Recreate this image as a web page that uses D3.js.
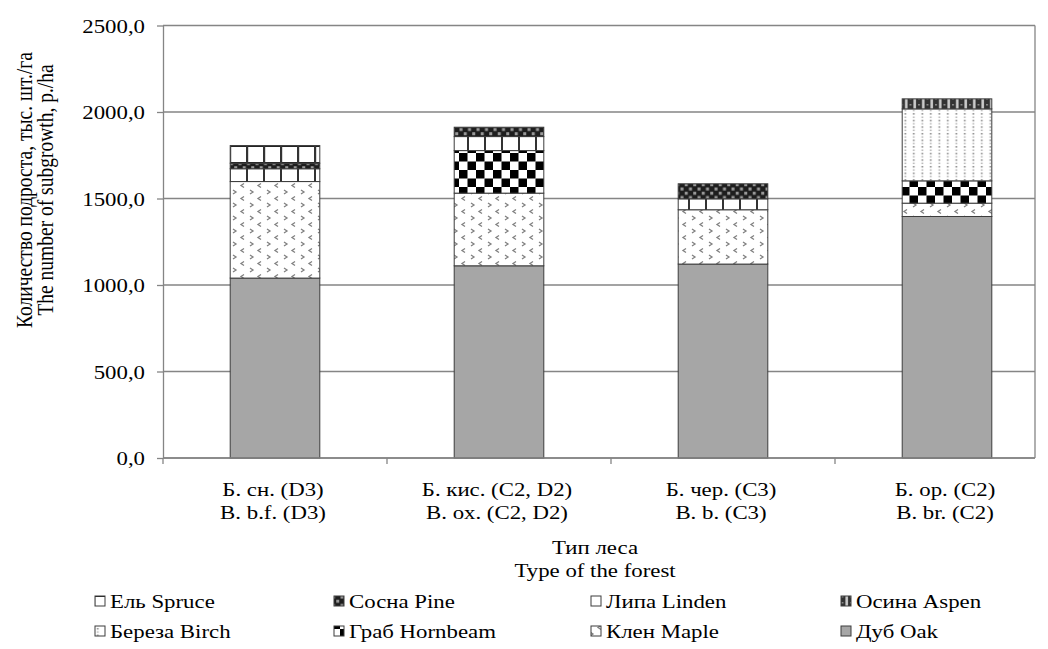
<!DOCTYPE html>
<html><head><meta charset="utf-8">
<script src="https://cdn.jsdelivr.net/npm/d3@7"></script>
<style>
body{margin:0;background:#fff}
text{font-family:"Liberation Serif","Times New Roman",serif;font-size:19.5px;fill:#000}
</style>
</head><body>
<svg id="c" width="1048" height="649"></svg>
<script>
// ---- data ----
const categoriesRu = ["Б. сн. (D3)", "Б. кис. (C2, D2)", "Б. чер. (C3)", "Б. ор. (C2)"];
const categoriesEn = ["B. b.f. (D3)", "B. ox. (C2, D2)", "B. b. (C3)", "B. br. (C2)"];
// series, stacked bottom to top
const seriesKeys = ["oak", "maple", "hornbeam", "birch", "aspen", "linden", "pine", "spruce"];
const seriesLabels = ["Дуб Oak", "Клен Maple", "Граб Hornbeam", "Береза Birch", "Осина Aspen", "Липа Linden", "Сосна Pine", "Ель Spruce"];
const oak      = [1040, 1111, 1121, 1396];
const maple    = [558, 420, 314, 77];
const hornbeam = [0, 246, 0, 129];
const birch    = [0, 0, 0, 416];
const aspen    = [0, 0, 0, 58];
const linden   = [74, 81, 63, 0];
const pine     = [32, 54, 87, 0];
const spruce   = [102, 0, 0, 0];
const yTicks = [0, 500, 1000, 1500, 2000, 2500];
const legendRow1 = ["spruce", "pine", "linden", "aspen"];
const legendRow2 = ["birch", "hornbeam", "maple", "oak"];
const yTitle = ["Количество подроста, тыс. шт./га", "The number of subgrowth, p./ha"];
const xTitle = ["Тип леса", "Type of the forest"];

const values = {oak, maple, hornbeam, birch, aspen, linden, pine, spruce};
const labelOf = {};
seriesKeys.forEach((k, i) => labelOf[k] = seriesLabels[i]);
const table = categoriesRu.map((c, i) => {
  const row = {cat: c};
  seriesKeys.forEach(k => row[k] = values[k][i]);
  return row;
});

// ---- layout ----
const SX = 1.17;
const L = 163, R = 1035, T = 25.5, B = 458;
const svg = d3.select("#c");
const x = d3.scaleBand().domain(categoriesRu).range([L, L + 4 * 224]).paddingInner(0.6).paddingOuter(0.3);
const y = d3.scaleLinear().domain([0, 2500]).range([B, T]);

// ---- patterns ----
const defs = svg.append("defs");
function pat(id, w, h) {
  return defs.append("pattern").attr("id", id).attr("patternUnits", "userSpaceOnUse")
    .attr("width", w).attr("height", h);
}
let p;
// maple: divot
p = pat("p-maple", 17, 13);
p.append("rect").attr("width", 17).attr("height", 13).attr("fill", "#fff");
p.append("path").attr("d", "M6,1.5 L3,3.5 L6,5.5").attr("fill", "none").attr("stroke", "#808080").attr("stroke-width", 1.3);
p.append("path").attr("d", "M12,8 L15,10 L12,12").attr("fill", "none").attr("stroke", "#808080").attr("stroke-width", 1.3);
// hornbeam: large checker
p = pat("p-hornbeam", 17, 17);
p.append("rect").attr("width", 17).attr("height", 17).attr("fill", "#fff");
p.append("rect").attr("width", 8.5).attr("height", 8.5).attr("fill", "#000");
p.append("rect").attr("x", 8.5).attr("y", 8.5).attr("width", 8.5).attr("height", 8.5).attr("fill", "#000");
// birch: dotted
p = pat("p-birch", 8.5, 6.6);
p.append("rect").attr("width", 8.5).attr("height", 6.6).attr("fill", "#fff");
p.append("rect").attr("x", 3.5).attr("y", 1).attr("width", 1.6).attr("height", 1.4).attr("fill", "#777");
p.append("rect").attr("x", 3.5).attr("y", 4.3).attr("width", 1.6).attr("height", 1.4).attr("fill", "#aaa");
// aspen: dense dark
p = pat("p-aspen", 8.5, 6);
p.append("rect").attr("width", 8.5).attr("height", 6).attr("fill", "#333");
p.append("rect").attr("x", 4).attr("width", 2.5).attr("height", 6).attr("fill", "#d0d0d0");
p.append("rect").attr("x", 0).attr("y", 2).attr("width", 2).attr("height", 1.5).attr("fill", "#888");
// linden: white with vertical marks
p = pat("p-linden", 17, 17);
p.append("rect").attr("width", 17).attr("height", 17).attr("fill", "#fff");
p.append("rect").attr("x", 8).attr("width", 2).attr("height", 17).attr("fill", "#333");
// pine: small dark checker
p = pat("p-pine", 8.5, 8.5);
p.append("rect").attr("width", 8.5).attr("height", 8.5).attr("fill", "#1e1e1e");
p.append("rect").attr("x", 0.5).attr("y", 0.5).attr("width", 3).attr("height", 3).attr("fill", "#9a9a9a");
p.append("rect").attr("x", 4.75).attr("y", 4.75).attr("width", 3).attr("height", 3).attr("fill", "#9a9a9a");
// spruce: brick-like with dark band
p = pat("p-spruce", 17, 18);
p.append("rect").attr("width", 17).attr("height", 18).attr("fill", "#fff");
p.append("rect").attr("y", 0).attr("width", 17).attr("height", 3).attr("fill", "#222");
p.append("rect").attr("x", 8).attr("width", 2.2).attr("height", 18).attr("fill", "#333");

const fillOf = k => k === "oak" ? "#a6a6a6" : `url(#p-${k})`;

// ---- gridlines ----
svg.append("g").selectAll("line").data(yTicks).join("line")
  .attr("x1", L).attr("x2", R).attr("y1", d => y(d)).attr("y2", d => y(d))
  .attr("stroke", "#858585").attr("stroke-width", 1.3);
svg.append("line").attr("x1", R).attr("x2", R).attr("y1", y(2500)).attr("y2", y(0))
  .attr("stroke", "#858585").attr("stroke-width", 1.3);

// ---- bars ----
const stack = d3.stack().keys(seriesKeys)(table);
svg.append("g").selectAll("g").data(stack).join("g")
  .attr("fill", d => fillOf(d.key))
  .selectAll("rect").data(d => d.filter(s => s[1] - s[0] > 0)).join("rect")
  .attr("x", d => x(d.data.cat)).attr("width", x.bandwidth())
  .attr("y", d => y(d[1])).attr("height", d => y(d[0]) - y(d[1]))
  .attr("stroke", "#3c3c3c").attr("stroke-width", 1);

// ---- y axis ----
const ya = svg.append("g").attr("transform", `translate(${L},0)`)
  .call(d3.axisLeft(y).tickValues(yTicks).tickSize(6).tickSizeOuter(0)
    .tickFormat(d => d3.format(".1f")(d).replace(".", ",")));
ya.select(".domain").attr("stroke", "#858585").attr("stroke-width", 1.3);
ya.selectAll(".tick line").attr("stroke", "#858585").attr("stroke-width", 1.3);
ya.selectAll(".tick text").attr("font-size", null).attr("font-family", null)
  .attr("x", -18 / SX).attr("dy", "0.34em").attr("transform", `scale(${SX},1)`);

// ---- x axis ----
svg.append("line").attr("x1", L).attr("x2", R).attr("y1", B).attr("y2", B)
  .attr("stroke", "#858585").attr("stroke-width", 1.3);
const gap = (x.step() - x.bandwidth()) / 2;
svg.append("g").selectAll("line").data(categoriesRu).join("line")
  .attr("x1", d => x(d) - gap).attr("x2", d => x(d) - gap)
  .attr("y1", B).attr("y2", B + 6)
  .attr("stroke", "#858585").attr("stroke-width", 1.3);

function stext(g, px, py, str, anchor) {
  return g.append("text").attr("transform", `translate(${px},${py}) scale(${SX},1)`)
    .attr("text-anchor", anchor || "middle").text(str);
}
const xl = svg.append("g");
categoriesRu.forEach((c, i) => {
  const cx = x(c) + x.bandwidth() / 2 - 2;
  stext(xl, cx, 496, c);
  stext(xl, cx, 519, categoriesEn[i]);
});
stext(xl, 595, 554, xTitle[0]);
stext(xl, 595, 577, xTitle[1]);

// ---- y title ----
const yt = svg.append("g");
yt.append("text").attr("transform", `translate(32,190) scale(${SX},1) rotate(-90)`)
  .attr("text-anchor", "middle").text(yTitle[0]);
yt.append("text").attr("transform", `translate(53,190) scale(${SX},1) rotate(-90)`)
  .attr("text-anchor", "middle").text(yTitle[1]);

// ---- legend ----
const legX = [95, 334, 591, 841];
const legY = [601, 631];
const lg = svg.append("g");
[legendRow1, legendRow2].forEach((row, r) => {
  row.forEach((k, c) => {
    lg.append("rect").attr("x", legX[c]).attr("y", legY[r] - 5).attr("width", 10).attr("height", 10)
      .attr("fill", fillOf(k)).attr("stroke", "#3c3c3c").attr("stroke-width", 1);
    stext(lg, legX[c] + 15, legY[r] + 7, labelOf[k], "start");
  });
});
</script>
</body></html>
